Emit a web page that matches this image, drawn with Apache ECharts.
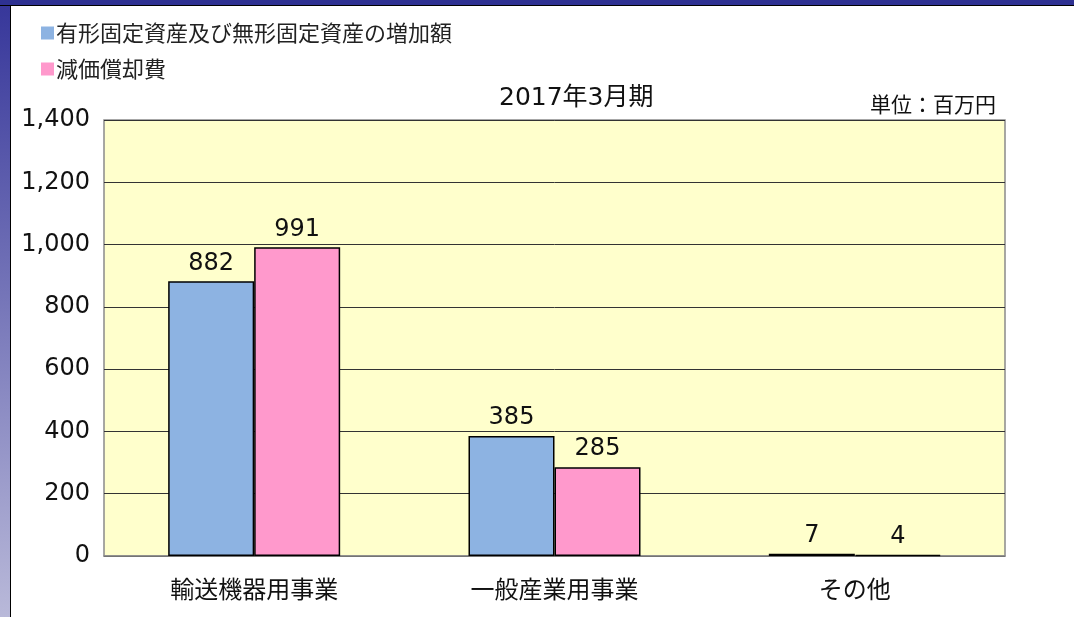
<!DOCTYPE html>
<html>
<head>
<meta charset="utf-8">
<script src="https://cdn.jsdelivr.net/npm/echarts@6/dist/echarts.min.js"></script>
<style>
  html, body { margin: 0; padding: 0; }
  body {
    width: 1074px; height: 617px; overflow: hidden;
    background:
      linear-gradient(#2e3192, #2e3192) 0 0 / 100% 5px no-repeat,
      linear-gradient(#000, #000) 0 5px / 100% 1px no-repeat,
      linear-gradient(to bottom, #36369a, #b9b9d9) 0 0 / 10px 100% no-repeat,
      linear-gradient(#000, #000) 10px 0 / 1px 100% no-repeat,
      #fff;
  }
  #chart { width: 1074px; height: 617px; }
</style>
</head>
<body>
<div id="chart"></div>
<script>
// ===== データ =====
var categories = ['輸送機器用事業', '一般産業用事業', 'その他'];
var seriesNames = ['有形固定資産及び無形固定資産の増加額', '減価償却費'];
var additions = [882, 385, 7];     // 増加額
var depreciation = [991, 285, 4];  // 減価償却費
var yTicks = [0, 200, 400, 600, 800, 1000, 1200, 1400];

var FONT = '"DejaVu Sans", "Noto Sans CJK JP", sans-serif';
var CJK = '"Noto Sans CJK JP", sans-serif';

var chart = echarts.init(document.getElementById('chart'));

var option = {
  animation: false,
  title: [
    {
      text: '2017年3月期',
      left: 494, top: 81,
      textStyle: { fontFamily: FONT, fontSize: 25, fontWeight: 'normal', color: '#111' }
    },
    {
      text: '単位：百万円',
      right: 73, top: 89,
      textStyle: { fontFamily: CJK, fontSize: 21, fontWeight: 'normal', color: '#111' }
    }
  ],
  legend: {
    orient: 'vertical',
    left: 41, top: 22,
    padding: 0,
    icon: 'rect',
    itemWidth: 13, itemHeight: 13,
    itemGap: 14,
    itemStyle: { borderWidth: 0 },
    textStyle: { fontFamily: CJK, fontSize: 22, color: '#222', padding: [0, 0, 0, -3] },
    data: seriesNames
  },
  grid: {
    left: 104, right: 69, top: 120, bottom: 61,
    show: true,
    backgroundColor: '#ffffcc',
    borderColor: '#8a8a8a',
    borderWidth: 1.5
  },
  xAxis: {
    type: 'category',
    data: categories,
    axisTick: { show: false },
    axisLine: { lineStyle: { color: '#8a8a8a', width: 1.5 } },
    axisLabel: { fontFamily: CJK, fontSize: 24, color: '#111', margin: 21 }
  },
  yAxis: {
    type: 'value',
    min: yTicks[0], max: yTicks[yTicks.length - 1], interval: 200,
    axisLine: { show: false },
    axisTick: { show: false },
    splitLine: { lineStyle: { color: '#333', width: 1 } },
    axisLabel: {
      fontFamily: FONT, fontSize: 24, color: '#111', margin: 14,
      formatter: function (v) { return v.toLocaleString('en-US'); }
    }
  },
  series: [
    {
      name: seriesNames[0],
      type: 'bar',
      data: additions,
      barWidth: 86,
      barGap: '0%',
      itemStyle: { color: '#8db3e2', borderColor: '#000', borderWidth: 1.5 },
      label: {
        show: true, position: 'top', distance: 6,
        fontFamily: FONT, fontSize: 24, color: '#111'
      }
    },
    {
      name: seriesNames[1],
      type: 'bar',
      data: depreciation,
      barWidth: 86,
      itemStyle: { color: '#ff99cc', borderColor: '#000', borderWidth: 1.5 },
      label: {
        show: true, position: 'top', distance: 6,
        fontFamily: FONT, fontSize: 24, color: '#111'
      }
    }
  ]
};

chart.setOption(option);
</script>
</body>
</html>
